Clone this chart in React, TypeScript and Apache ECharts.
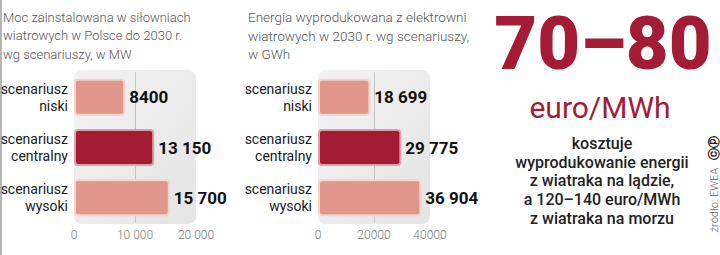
import React, { useEffect, useRef } from "react";
import * as echarts from "echarts";

const categories = ["scenariusz\nniski", "scenariusz\ncentralny", "scenariusz\nwysoki"];
const capacityMW = [8400, 13150, 15700];
const energyGWh = [18699, 29775, 36904];
const capacityAxis = { max: 20000, interval: 10000 };
const energyAxis = { max: 40000, interval: 20000 };
const title1 = "Moc zainstalowana w siłowniach\nwiatrowych w Polsce do 2030 r.\nwg scenariuszy, w MW";
const title2 = "Energia wyprodukowana z elektrowni\nwiatrowych w 2030 r. wg scenariuszy,\nw GWh";
const bigValue = "70–80";
const bigUnit = "euro/MWh";
const bodyText = "kosztuje\nwyprodukowanie energii\nz wiatraka na lądzie,\na 120–140 euro/MWh\nz wiatraka na morzu";
const sourceText = "źródło: EWEA";

const PINK = "#e0968a";
const RED = "#a31c34";

function fmtSpace(n: number) {
  if (n < 10000) return String(n);
  return String(n).replace(/\B(?=(\d{3})+(?!\d))/g, " ");
}

function barData(vals: number[]) {
  return vals.map((v, i) => ({
    value: v,
    itemStyle: {
      color: i === 1 ? RED : PINK,
      borderColor: i === 1 ? "#d9a3aa" : "#f4d3cb",
    },
  }));
}

export default function App() {
  const ref = useRef<HTMLDivElement>(null);
  useEffect(() => {
    if (!ref.current) return;
    const chart = echarts.init(ref.current, undefined, { renderer: "svg" });
    const grids = [
      { left: 74, top: 72, width: 122, height: 151, outerBoundsMode: "none", containLabel: false },
      { left: 318, top: 72, width: 112, height: 151, outerBoundsMode: "none", containLabel: false },
    ];
    const makeX = (idx: number, ax: { max: number; interval: number }, spaced: boolean) => ({
      type: "value",
      gridIndex: idx,
      min: 0,
      max: ax.max,
      interval: ax.interval,
      axisLine: { show: false },
      axisTick: { show: false },
      axisLabel: {
        color: "#7a7a7a",
        fontFamily: "Roboto",
        fontWeight: 300,
        fontSize: 12,
        margin: 6,
        formatter: (v: number) => (spaced ? fmtSpace(v) : String(v)),
      },
      splitLine: {
        show: true,
        lineStyle: { color: ["rgba(0,0,0,0)", "#c4c4c4", "rgba(0,0,0,0)"], width: 1 },
      },
    });
    const makeY = (idx: number) => ({
      type: "category",
      gridIndex: idx,
      data: categories,
      inverse: true,
      axisLine: { show: false },
      axisTick: { show: false },
      axisLabel: {
        color: "#1a1a1a",
        fontFamily: "Roboto",
        fontSize: 14,
        lineHeight: 17,
        align: "right",
        margin: 6,
      },
    });
    const makeSeries = (idx: number, vals: number[]) => ({
      type: "bar",
      xAxisIndex: idx,
      yAxisIndex: idx,
      data: barData(vals),
      barWidth: 37,
      itemStyle: { borderWidth: 2, borderRadius: 3 },
      label: {
        show: true,
        position: "right",
        distance: 4,
        color: "#111",
        fontFamily: "Roboto",
        fontWeight: "bold",
        fontSize: 17,
        formatter: (p: any) => fmtSpace(p.value),
      },
    });
    const panelBg = (g: { left: number; top: number; width: number; height: number }) => ({
      type: "rect",
      z: -10,
      shape: { x: g.left, y: g.top - 2, width: g.width, height: g.height + 3, r: 8 },
      style: {
        fill: new echarts.graphic.LinearGradient(0, 0, 1, 1, [
          { offset: 0, color: "#f3f3f3" },
          { offset: 1, color: "#e4e4e4" },
        ]),
      },
    });
    chart.setOption({
      animation: false,
      backgroundColor: "#ffffff",
      grid: grids,
      xAxis: [makeX(0, capacityAxis, true), makeX(1, energyAxis, false)],
      yAxis: [makeY(0), makeY(1)],
      series: [makeSeries(0, capacityMW), makeSeries(1, energyGWh)],
      graphic: [
        panelBg(grids[0]),
        panelBg(grids[1]),
        {
          type: "line",
          shape: { x1: 1, y1: 0, x2: 1, y2: 255 },
          style: { stroke: "#b5b5b5", lineWidth: 2 },
        },
        {
          type: "text",
          x: 3,
          y: 8,
          style: {
            text: title1,
            fill: "#555",
            font: "300 13px Roboto",
            lineHeight: 18.5,
          },
        },
        {
          type: "text",
          x: 248,
          y: 8,
          style: {
            text: title2,
            fill: "#555",
            font: "300 13.5px Roboto",
            lineHeight: 18.5,
          },
        },
        {
          type: "text",
          x: 603,
          y: 43,
          style: {
            text: bigValue,
            fill: RED,
            font: "900 74px Roboto",
            align: "center",
            verticalAlign: "middle",
          },
        },
        {
          type: "text",
          x: 600,
          y: 107,
          style: {
            text: bigUnit,
            fill: RED,
            font: "30px Roboto",
            align: "center",
            verticalAlign: "middle",
          },
        },
        {
          type: "text",
          x: 602,
          y: 134,
          style: {
            text: bodyText,
            fill: "#222",
            font: "500 16px Roboto",
            align: "center",
            lineHeight: 18.7,
          },
        },
        {
          type: "text",
          x: 714,
          y: 200,
          rotation: Math.PI / 2,
          style: {
            text: sourceText,
            fill: "#666",
            font: "300 11px Roboto",
            align: "center",
            verticalAlign: "middle",
          },
        },
        {
          type: "text",
          x: 714,
          y: 148,
          rotation: Math.PI / 2,
          style: {
            text: "ⓒⓟ",
            fill: "#222",
            font: "bold 12px 'DejaVu Sans'",
            align: "center",
            verticalAlign: "middle",
          },
        },
      ],
    });
    return () => chart.dispose();
  }, []);
  return (
    <div
      ref={ref}
      style={{ position: "fixed", left: 0, top: 0, width: 720, height: 255 }}
    />
  );
}
